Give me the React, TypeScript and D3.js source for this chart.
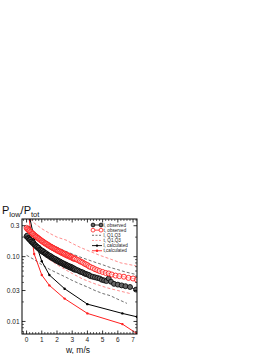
import React from "react";
import * as d3 from "d3";

const W = 274, H = 354;
const M = { left: 22, right: 137, top: 219, bottom: 334 };

const xTicks = [0, 1, 2, 3, 4, 5, 6, 7];
const yTicks = [0.01, 0.03, 0.1, 0.3];
const yTickLabels = ["0.01", "0.03", "0.10", "0.3"];

const lObsW = [0,0.05,0.1,0.15,0.2,0.25,0.3,0.35,0.4,0.45,0.5,0.55,0.6,0.65,0.7,0.75,0.8,0.85,0.9,0.95,1.0,1.05,1.1,1.15,1.2,1.25,1.3,1.35,1.4,1.45,1.5,1.55,1.6,1.65,1.7,1.75,1.8,1.85,1.9,1.95,2.0,2.05,2.1,2.15,2.2,2.25,2.3,2.35,2.4,2.45,2.5,2.55,2.6,2.65,2.7,2.75,2.8,2.85,2.9,2.95,3.0,3.05,3.1,3.15,3.2,3.3,3.4,3.5,3.6,3.7,3.8,3.9,4.0,4.1,4.2,4.35,4.5,4.65,4.8,4.95,5.1,5.25,5.4,5.55,5.75,6.0,6.25,6.5,6.8,7.2];
const lObsV = [0.205,0.212,0.194,0.190,0.183,0.181,0.172,0.170,0.163,0.162,0.155,0.151,0.149,0.143,0.142,0.136,0.137,0.130,0.128,0.126,0.121,0.123,0.117,0.118,0.113,0.111,0.112,0.106,0.107,0.103,0.104,0.099,0.101,0.096,0.097,0.093,0.094,0.090,0.092,0.087,0.089,0.085,0.086,0.082,0.084,0.080,0.081,0.078,0.079,0.076,0.077,0.073,0.075,0.072,0.073,0.070,0.071,0.068,0.070,0.067,0.068,0.065,0.066,0.063,0.064,0.062,0.061,0.059,0.058,0.057,0.055,0.054,0.053,0.052,0.050,0.049,0.048,0.047,0.046,0.044,0.043,0.042,0.046,0.041,0.038,0.037,0.036,0.035,0.034,0.031];

const tObsW = [0,0.05,0.1,0.15,0.2,0.25,0.3,0.35,0.4,0.45,0.5,0.55,0.6,0.65,0.7,0.75,0.8,0.85,0.9,0.95,1.0,1.05,1.1,1.15,1.2,1.25,1.3,1.35,1.4,1.45,1.5,1.55,1.6,1.65,1.7,1.75,1.8,1.85,1.9,1.95,2.0,2.05,2.1,2.15,2.2,2.25,2.3,2.35,2.4,2.45,2.5,2.55,2.6,2.65,2.7,2.75,2.8,2.85,2.9,2.95,3.0,3.05,3.1,3.15,3.2,3.3,3.4,3.5,3.6,3.7,3.8,3.9,4.0,4.1,4.2,4.35,4.5,4.65,4.8,5.0,5.2,5.4,5.6,5.85,6.1,6.4,6.7,7.0,7.25];
const tObsV = [0.278,0.268,0.262,0.255,0.250,0.242,0.238,0.231,0.226,0.222,0.215,0.211,0.206,0.203,0.197,0.195,0.189,0.186,0.181,0.179,0.174,0.172,0.167,0.166,0.161,0.160,0.156,0.155,0.150,0.150,0.146,0.144,0.142,0.139,0.138,0.135,0.134,0.131,0.130,0.127,0.127,0.123,0.123,0.120,0.120,0.116,0.117,0.113,0.114,0.110,0.111,0.107,0.108,0.104,0.106,0.102,0.103,0.099,0.100,0.097,0.098,0.094,0.095,0.092,0.093,0.090,0.088,0.085,0.083,0.081,0.078,0.076,0.074,0.071,0.069,0.067,0.064,0.062,0.060,0.058,0.056,0.055,0.053,0.051,0.050,0.049,0.047,0.046,0.044];

const lQ3W = [0.15,0.5,1.0,1.5,2.0,2.5,3.0,3.5,4.0,4.5,5.0,5.5,6.0,6.5,7.2];
const lQ3V = [0.30,0.24,0.19,0.16,0.14,0.123,0.11,0.099,0.09,0.082,0.075,0.068,0.063,0.058,0.053];
const lQ1W = [0,0.5,1.0,1.5,2.0,2.6,3.0,3.5,4.0,4.5,5.0,5.5,6.0,6.6];
const lQ1V = [0.105,0.09,0.075,0.064,0.056,0.048,0.043,0.038,0.034,0.030,0.027,0.025,0.022,0.019];

const tQ3W = [0.25,0.5,1.0,1.5,2.0,2.6,3.0,3.5,4.0,4.8,5.5,6.2,7.2];
const tQ3V = [0.38,0.33,0.27,0.23,0.20,0.18,0.16,0.14,0.125,0.105,0.092,0.08,0.072];
const tQ1W = [0.1,0.5,1.0,1.5,2.0,2.6,3.0,3.7,4.5,5.3,6.0,6.8];
const tQ1V = [0.24,0.16,0.115,0.09,0.075,0.062,0.055,0.045,0.038,0.033,0.030,0.027];

const calcW = [0.05,0.5,1.0,1.5,2.5,4.0,6.3,7.25];
const lCalcV = [0.6,0.19,0.085,0.052,0.032,0.0185,0.0133,0.0118];
const tCalcV = [0.6,0.11,0.052,0.036,0.0225,0.0133,0.0091,0.0065];

const legendLabels = ["l, observed", "t, observed", "l, Q1,Q3", "t, Q1,Q3", "l, calculated", "t,calculated"];

export default function App() {
  const x = d3.scaleLinear().domain([-0.3, 7.26]).range([M.left, M.right]);
  const y = d3.scaleLog().domain([0.0064, 0.381]).range([M.bottom, M.top]);
  const line = (ws: number[], vs: number[]) =>
    d3.line<number>().x((_, i) => x(ws[i])).y((v) => y(v))(vs) || "";

  const xMinor = d3.range(-0.2, 7.3, 0.2).filter((v) => Math.abs(v - Math.round(v)) > 0.01);
  const yMinor: number[] = [];
  [0.001, 0.01, 0.1].forEach((d) => {
    for (let k = 2; k <= 9; k++) {
      const v = d * k;
      if (v >= 0.0064 && v <= 0.381 && !yTicks.some((t) => Math.abs(t - v) < 1e-9)) yMinor.push(v);
    }
  });

  const red = "#ff2020";
  const pink = "#ff7070";
  const font = "Liberation Sans, Arial, sans-serif";
  const legY0 = 225;
  const legDy = 5.15;

  return (
    <div style={{ position: "fixed", left: 0, top: 0 }}>
      <svg width={W} height={H} style={{ display: "block", background: "#fff" }} fontFamily={font}>
        <defs>
          <clipPath id="plot">
            <rect x={M.left} y={M.top} width={M.right - M.left} height={M.bottom - M.top} />
          </clipPath>
        </defs>
        <g clipPath="url(#plot)">
          <path d={line(tQ3W, tQ3V)} fill="none" stroke={pink} strokeWidth={0.8} strokeDasharray="3,2" />
          <path d={line(tQ1W, tQ1V)} fill="none" stroke={pink} strokeWidth={0.8} strokeDasharray="3,2" />
          <path d={line(lQ3W, lQ3V)} fill="none" stroke="#333" strokeWidth={0.7} strokeDasharray="3,2" />
          <path d={line(lQ1W, lQ1V)} fill="none" stroke="#333" strokeWidth={0.7} strokeDasharray="3,2" />
          <path d={line(calcW, lCalcV)} fill="none" stroke="#000" strokeWidth={1} />
          <path d={line(calcW, tCalcV)} fill="none" stroke={red} strokeWidth={1} />
          {calcW.map((w, i) => (
            <circle key={"lc" + i} cx={x(w)} cy={y(lCalcV[i])} r={1.2} fill="#000" />
          ))}
          {calcW.map((w, i) => (
            <circle key={"tc" + i} cx={x(w)} cy={y(tCalcV[i])} r={1.2} fill={red} />
          ))}
          <path d={line(lObsW, lObsV)} fill="none" stroke="#000" strokeWidth={0.8} />
          {lObsW.map((w, i) => (
            <circle key={"lo" + i} cx={x(w)} cy={y(lObsV[i])} r={2.5} fill="#666" stroke="#000" strokeWidth={0.8} />
          ))}
          <path d={line(tObsW, tObsV)} fill="none" stroke={red} strokeWidth={0.8} />
          {tObsW.map((w, i) => (
            <circle key={"to" + i} cx={x(w)} cy={y(tObsV[i])} r={2.5} fill="#fff" fillOpacity={0.5} stroke={red} strokeWidth={0.9} />
          ))}
        </g>
        <rect x={M.left} y={M.top} width={M.right - M.left} height={M.bottom - M.top} fill="none" stroke="#000" strokeWidth={1} />
        {xTicks.map((t) => (
          <g key={"xt" + t}>
            <line x1={x(t)} x2={x(t)} y1={M.bottom} y2={M.bottom - 3.5} stroke="#000" strokeWidth={0.8} />
            <line x1={x(t)} x2={x(t)} y1={M.top} y2={M.top + 3.5} stroke="#000" strokeWidth={0.8} />
            <text x={x(t)} y={M.bottom + 8} fontSize={6.5} textAnchor="middle" fill="#222">{t}</text>
          </g>
        ))}
        {xMinor.map((t, i) => (
          <g key={"xm" + i}>
            <line x1={x(t)} x2={x(t)} y1={M.bottom} y2={M.bottom - 2} stroke="#000" strokeWidth={0.6} />
            <line x1={x(t)} x2={x(t)} y1={M.top} y2={M.top + 2} stroke="#000" strokeWidth={0.6} />
          </g>
        ))}
        {yTicks.map((t, i) => (
          <g key={"yt" + t}>
            <line x1={M.left} x2={M.left + 3.5} y1={y(t)} y2={y(t)} stroke="#000" strokeWidth={0.8} />
            <line x1={M.right} x2={M.right - 3.5} y1={y(t)} y2={y(t)} stroke="#000" strokeWidth={0.8} />
            <text x={M.left - 2.5} y={y(t) + 2.3} fontSize={6.5} textAnchor="end" fill="#222">{yTickLabels[i]}</text>
          </g>
        ))}
        {yMinor.map((t, i) => (
          <g key={"ym" + i}>
            <line x1={M.left} x2={M.left + 2} y1={y(t)} y2={y(t)} stroke="#000" strokeWidth={0.6} />
            <line x1={M.right} x2={M.right - 2} y1={y(t)} y2={y(t)} stroke="#000" strokeWidth={0.6} />
          </g>
        ))}
        <text x={78} y={352.5} fontSize={8.5} textAnchor="middle" fill="#111">w, m/s</text>
        <text x={2} y={214} fontSize={11} fill="#111">
          P<tspan fontSize={7.5} dy={3}>low</tspan>
          <tspan dy={-3}>/P</tspan>
          <tspan fontSize={7.5} dy={3}>tot</tspan>
        </text>
        {legendLabels.map((lab, i) => {
          const yy = legY0 + i * legDy;
          const x1 = 93, x2 = 101;
          const color = i % 2 === 0 ? "#000" : red;
          return (
            <g key={"lg" + i}>
              {i < 2 && (
                <>
                  <line x1={x1} x2={x2} y1={yy} y2={yy} stroke={color} strokeWidth={0.8} />
                  <circle cx={x1} cy={yy} r={1.9} fill={i === 0 ? "#666" : "#fff"} stroke={color} strokeWidth={0.8} />
                  <circle cx={x2} cy={yy} r={1.9} fill={i === 0 ? "#666" : "#fff"} stroke={color} strokeWidth={0.8} />
                </>
              )}
              {(i === 2 || i === 3) && (
                <line x1={x1 - 1} x2={x2 + 1} y1={yy} y2={yy} stroke={i === 2 ? "#333" : pink} strokeWidth={0.7} strokeDasharray="2,1.5" />
              )}
              {i >= 4 && (
                <>
                  <line x1={x1 - 1} x2={x2 + 1} y1={yy} y2={yy} stroke={color} strokeWidth={0.9} />
                  <circle cx={(x1 + x2) / 2} cy={yy} r={1.2} fill={color} />
                </>
              )}
              <text x={103.5} y={yy + 1.6} fontSize={4.6} fill="#222">{lab}</text>
            </g>
          );
        })}
      </svg>
    </div>
  );
}
